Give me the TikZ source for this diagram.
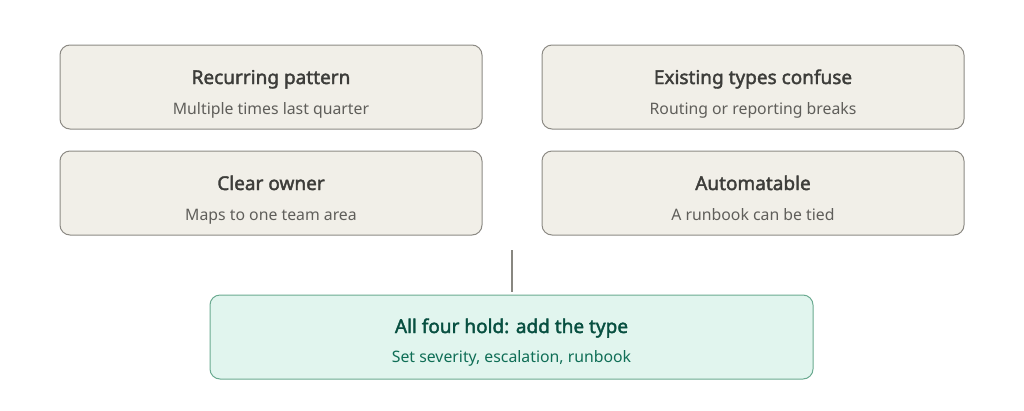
\documentclass[tikz,border=0pt]{standalone}
\usepackage{fontspec}
\setmainfont{Noto Sans}
\newfontfamily\titlefont{Noto Sans}[FakeBold=2]
\definecolor{boxfill}{HTML}{F1EFE8}
\definecolor{boxline}{HTML}{8C8A84}
\definecolor{titlec}{HTML}{3D3D3A}
\definecolor{subc}{HTML}{5F5E5A}
\definecolor{gfill}{HTML}{E1F5EE}
\definecolor{gline}{HTML}{6AAA90}
\definecolor{gtitle}{HTML}{085041}
\definecolor{gsub}{HTML}{0F6E56}
\definecolor{conn}{HTML}{888780}
\tikzset{
  card/.style={draw=boxline, fill=boxfill, line width=1pt, rounded corners=10pt,
    minimum width=422pt, minimum height=84pt, inner sep=0pt},
  gcard/.style={card, draw=gline, fill=gfill, minimum width=603pt},
  ttl/.style={anchor=base, inner sep=0pt, font=\titlefont\fontsize{19}{22}\selectfont, text=titlec},
  sub/.style={anchor=base, inner sep=0pt, font=\fontsize{15.8}{18}\selectfont, text=subc},
  link/.style={draw=conn, line width=1.5pt},
}
\begin{document}
\begin{tikzpicture}[x=1pt,y=-1pt]
\useasboundingbox (0,0) rectangle (1024,410);
\node[card] (a) at (271,87) {};
\node[card] (b) at (753,87) {};
\node[card] (c) at (271,193) {};
\node[card] (d) at (753,193) {};
\node[gcard] (g) at (511.5,337) {};
\node[ttl] (at) at (271,84) {Recurring pattern};
\node[sub] (as) at (271,114) {Multiple times last quarter};
\node[ttl] (bt) at (753,84) {Existing types confuse};
\node[sub] (bs) at (753,114) {Routing or reporting breaks};
\node[ttl] (ct) at (271,190) {Clear owner};
\node[sub] (cs) at (271,220) {Maps to one team area};
\node[ttl] (dt) at (753,190) {Automatable};
\node[sub] (ds) at (753,220) {A runbook can be tied};
\node[ttl, text=gtitle] (gt) at (511.5,333) {All four hold: add the type};
\node[sub, text=gsub] (gs) at (511.5,362) {Set severity, escalation, runbook};
\coordinate (top) at (512,250);
\draw[link, shorten >=3pt] (top) -- (top |- g.north);
\end{tikzpicture}
\end{document}
